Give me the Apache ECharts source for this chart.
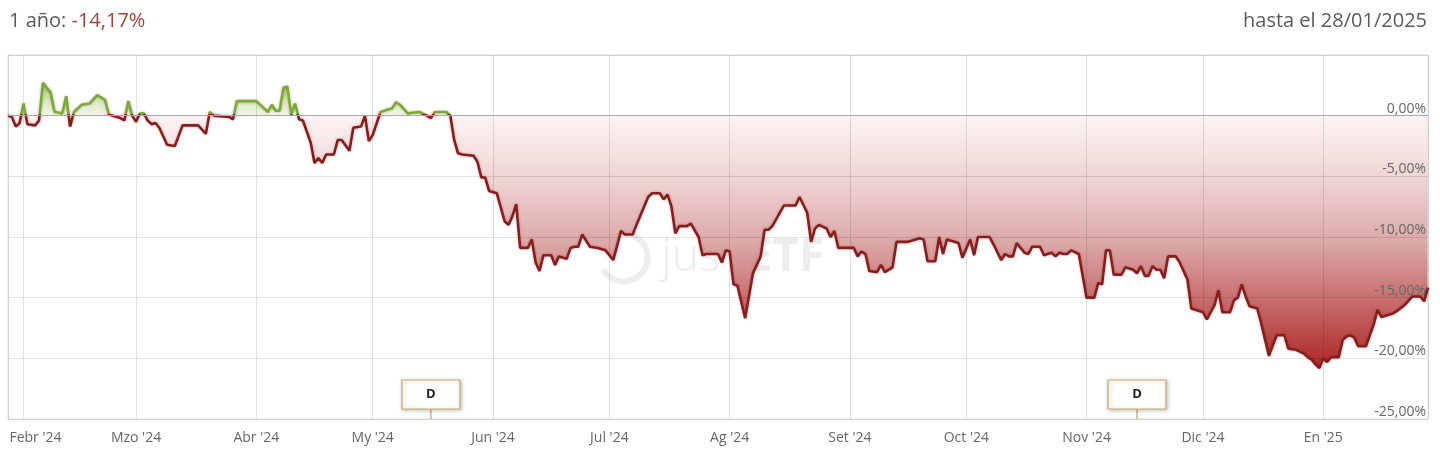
<!DOCTYPE html>
<html>
<head>
<meta charset="utf-8">
<script src="https://cdn.jsdelivr.net/npm/echarts@6/dist/echarts.min.js"></script>
<style>
html,body{margin:0;padding:0;background:#fff;}
#chart{width:1440px;height:456px;}
</style>
</head>
<body>
<div id="chart"></div>
<script>
// ---------- DATA ----------
const dates = [
'2024-01-28','2024-01-29','2024-01-30','2024-01-31','2024-02-01','2024-02-02','2024-02-04','2024-02-05','2024-02-06','2024-02-08',
'2024-02-09','2024-02-11','2024-02-12','2024-02-13','2024-02-14','2024-02-16','2024-02-18','2024-02-20','2024-02-22','2024-02-23',
'2024-02-24','2024-02-26','2024-02-27','2024-02-28','2024-02-29','2024-03-01','2024-03-02','2024-03-03','2024-03-04','2024-03-05',
'2024-03-06','2024-03-07','2024-03-09','2024-03-11','2024-03-13','2024-03-17','2024-03-19','2024-03-20','2024-03-21','2024-03-25',
'2024-03-26','2024-03-27','2024-04-01','2024-04-04','2024-04-05','2024-04-06','2024-04-07','2024-04-08','2024-04-09','2024-04-10',
'2024-04-11','2024-04-12','2024-04-13','2024-04-15','2024-04-16','2024-04-17','2024-04-18','2024-04-19','2024-04-21','2024-04-22',
'2024-04-23','2024-04-25','2024-04-26','2024-04-28','2024-04-29','2024-04-30','2024-05-01','2024-05-03','2024-05-05','2024-05-06',
'2024-05-07','2024-05-08','2024-05-10','2024-05-13','2024-05-15','2024-05-16','2024-05-17','2024-05-20','2024-05-21','2024-05-22',
'2024-05-23','2024-05-24','2024-05-27','2024-05-28','2024-05-29','2024-05-30','2024-05-31','2024-06-02','2024-06-04','2024-06-05',
'2024-06-06','2024-06-07','2024-06-08','2024-06-10','2024-06-11','2024-06-12','2024-06-13','2024-06-14','2024-06-16','2024-06-17',
'2024-06-18','2024-06-20','2024-06-21','2024-06-22','2024-06-23','2024-06-24','2024-06-26','2024-06-28','2024-06-30','2024-07-02',
'2024-07-04','2024-07-05','2024-07-07','2024-07-08','2024-07-11','2024-07-12','2024-07-14','2024-07-15','2024-07-16','2024-07-17',
'2024-07-18','2024-07-19','2024-07-21','2024-07-22','2024-07-24','2024-07-25','2024-07-26','2024-07-29','2024-07-30','2024-07-31',
'2024-08-01','2024-08-02','2024-08-03','2024-08-05','2024-08-07','2024-08-09','2024-08-10','2024-08-11','2024-08-12','2024-08-15',
'2024-08-18','2024-08-19','2024-08-21','2024-08-22','2024-08-23','2024-08-24','2024-08-26','2024-08-27','2024-08-28','2024-08-29',
'2024-09-02','2024-09-03','2024-09-04','2024-09-05','2024-09-06','2024-09-08','2024-09-09','2024-09-10','2024-09-12','2024-09-13',
'2024-09-16','2024-09-19','2024-09-20','2024-09-21','2024-09-23','2024-09-24','2024-09-25','2024-09-26','2024-09-29','2024-09-30',
'2024-10-02','2024-10-03','2024-10-04','2024-10-07','2024-10-08','2024-10-10','2024-10-11','2024-10-12','2024-10-13','2024-10-14',
'2024-10-16','2024-10-17','2024-10-18','2024-10-20','2024-10-21','2024-10-23','2024-10-24','2024-10-25','2024-10-26','2024-10-27',
'2024-10-28','2024-10-30','2024-11-01','2024-11-03','2024-11-04','2024-11-05','2024-11-06','2024-11-07','2024-11-08','2024-11-10',
'2024-11-11','2024-11-13','2024-11-14','2024-11-15','2024-11-16','2024-11-17','2024-11-18','2024-11-19','2024-11-20','2024-11-21',
'2024-11-22','2024-11-24','2024-11-25','2024-11-27','2024-11-28','2024-11-30','2024-12-01','2024-12-02','2024-12-04','2024-12-05',
'2024-12-06','2024-12-08','2024-12-09','2024-12-10','2024-12-11','2024-12-12','2024-12-13','2024-12-15','2024-12-16','2024-12-18',
'2024-12-20','2024-12-22','2024-12-23','2024-12-25','2024-12-27','2024-12-28','2024-12-29','2024-12-30','2024-12-31','2025-01-01',
'2025-01-02','2025-01-03','2025-01-05','2025-01-06','2025-01-07','2025-01-08','2025-01-09','2025-01-10','2025-01-12','2025-01-14',
'2025-01-15','2025-01-16','2025-01-19','2025-01-20','2025-01-22','2025-01-24','2025-01-26','2025-01-27','2025-01-28'
];
const values = [
0.0,-0.1,-0.9,-0.6,1.0,-0.7,-0.8,-0.4,2.7,1.9,
0.3,0.2,1.6,-0.9,0.3,0.9,1.0,1.7,1.3,0.1,
0.0,-0.2,-0.4,1.2,0.0,-0.5,0.2,0.2,-0.4,-0.7,
-0.6,-1.0,-2.4,-2.5,-0.8,-0.8,-1.5,0.3,0.0,-0.1,
-0.3,1.2,1.2,0.3,0.9,0.4,0.4,2.3,2.4,0.1,
1.0,-0.3,-0.4,-2.2,-3.9,-3.5,-3.9,-3.2,-3.2,-2.0,
-2.0,-2.9,-1.0,-0.9,0.0,-2.1,-1.6,0.3,0.5,0.6,
1.1,0.9,0.2,0.3,0.0,-0.2,0.3,0.3,0.0,-2.0,
-3.1,-3.2,-3.3,-3.8,-5.1,-5.1,-6.2,-6.4,-8.7,-9.0,
-8.3,-7.3,-10.9,-10.9,-10.2,-12.1,-12.8,-11.5,-11.5,-12.3,
-11.6,-11.8,-10.9,-10.8,-10.8,-9.8,-10.8,-10.9,-11.1,-11.9,
-9.5,-9.8,-9.8,-9.0,-6.7,-6.4,-6.4,-6.9,-6.5,-7.5,
-9.7,-9.1,-9.1,-8.9,-10.0,-11.5,-11.4,-11.4,-12.1,-11.1,
-11.2,-13.9,-14.0,-16.7,-13.0,-11.6,-9.4,-9.4,-9.1,-7.4,
-7.4,-6.7,-8.0,-10.4,-9.3,-9.0,-9.3,-10.0,-9.5,-10.9,
-10.9,-11.6,-11.2,-11.4,-12.8,-12.9,-12.3,-12.9,-12.5,-10.4,
-10.4,-10.1,-10.2,-12.0,-12.0,-10.0,-11.4,-10.2,-10.5,-11.7,
-10.2,-11.5,-10.0,-10.0,-10.6,-11.9,-11.4,-11.6,-11.6,-10.5,
-11.3,-11.4,-10.8,-10.8,-11.5,-11.3,-11.6,-11.3,-11.4,-11.4,
-11.1,-11.4,-15.0,-15.0,-13.8,-13.9,-11.1,-11.1,-13.1,-13.1,
-12.5,-12.7,-13.0,-12.4,-13.2,-13.2,-12.4,-12.7,-12.7,-13.4,
-11.6,-11.6,-12.1,-13.5,-15.9,-16.1,-16.2,-16.8,-15.6,-14.4,
-16.2,-16.2,-15.2,-15.0,-13.9,-14.9,-15.7,-15.9,-17.1,-19.8,
-18.1,-18.1,-19.2,-19.3,-19.6,-19.9,-20.1,-20.5,-20.8,-20.0,
-20.3,-19.9,-19.9,-18.5,-18.2,-18.1,-18.3,-19.0,-19.0,-17.2,
-16.0,-16.6,-16.3,-16.1,-15.6,-14.9,-14.9,-15.3,-14.17
];
const monthNames = ['En','Febr','Mzo','Abr','My','Jun','Jul','Ag','Set','Oct','Nov','Dic'];
const dividendDates = ['2024-05-16','2024-11-14'];
const dividendLabel = 'D';
const xRange = ['2024-01-28','2025-01-28'];
const yRange = [-25, 5];
const yStep = 5;
const titleLeftText = '1 año: ';
const titleValueText = '-14,17%';
const titleRightText = 'hasta el 28/01/2025';
const watermarkText = ['jus', 'tETF'];

// ---------- STYLES ----------
const FONT = '"Open Sans", "Noto Sans", sans-serif';
const vMax = Math.max.apply(null, values);
const vMin = Math.min.apply(null, values);
const zeroOff = vMax / (vMax - vMin);
const lineGrad = new echarts.graphic.LinearGradient(0, 0, 0, 1, [
  {offset: 0, color: '#79ab36'},
  {offset: zeroOff, color: '#79ab36'},
  {offset: zeroOff, color: '#8a1c1c'},
  {offset: 1, color: '#8a1c1c'}
]);
const areaGrad = new echarts.graphic.LinearGradient(0, 0, 0, 1, [
  {offset: 0, color: 'rgba(140,190,70,0.8)'},
  {offset: zeroOff, color: 'rgba(215,232,190,0.35)'},
  {offset: zeroOff, color: 'rgba(252,244,244,1)'},
  {offset: zeroOff + (1 - zeroOff) * 0.25, color: '#f0d4d4'},
  {offset: zeroOff + (1 - zeroOff) * 0.5, color: '#dca9a9'},
  {offset: zeroOff + (1 - zeroOff) * 0.75, color: '#c66868'},
  {offset: 1, color: '#ad2626'}
]);
const seriesData = dates.map(function (d, i) { return [d, values[i]]; });

const chart = echarts.init(document.getElementById('chart'), null, {renderer: 'canvas'});
const option = {
  animation: false,
  backgroundColor: '#fff',
  title: [
    {
      text: '{a|' + titleLeftText + '}{b|' + titleValueText + '}',
      left: 9, top: 11, padding: 0,
      textStyle: {
        fontWeight: 'normal', fontSize: 20, fontFamily: FONT,
        rich: {
          a: {fontSize: 20, color: '#5b5b5b', fontFamily: FONT, fontWeight: 'normal'},
          b: {fontSize: 20, color: '#a2443e', fontFamily: FONT, fontWeight: 'normal'}
        }
      }
    },
    {
      text: titleRightText,
      right: 13, top: 11, padding: 0,
      textStyle: {fontWeight: 'normal', fontSize: 20, color: '#5b5b5b', fontFamily: FONT}
    }
  ],
  grid: {
    left: 8, right: 12, top: 55, bottom: 37,
    show: true, borderColor: '#dcdcdc', borderWidth: 1, containLabel: false, z: 2
  },
  xAxis: {
    type: 'time', z: 2,
    min: xRange[0], max: xRange[1],
    splitNumber: 10,
    axisLine: {show: true, lineStyle: {color: '#bdbdbd', width: 1}},
    axisTick: {show: false},
    splitLine: {show: true, lineStyle: {color: 'rgba(0,0,0,0.11)', width: 1}},
    axisLabel: {
      show: true, margin: 12, fontSize: 14, color: '#666', fontFamily: FONT,
      hideOverlap: false, showMinLabel: true, showMaxLabel: true,
      formatter: function (val) {
        const d = new Date(val);
        if (d.getDate() !== 1 || d.getHours() !== 0) return '';
        const txt = monthNames[d.getMonth()] + " '" + String(d.getFullYear()).slice(2);
        if (+d === +echarts.time.parse(xRange[0]) + 4 * 864e5) return '{f|' + txt + '}';
        return txt;
      },
      rich: {
        f: {width: 76, align: 'right', fontSize: 14, color: '#666', fontFamily: FONT}
      }
    }
  },
  yAxis: {
    type: 'value', position: 'right', z: 2,
    min: yRange[0], max: yRange[1], interval: yStep,
    axisLine: {show: false}, axisTick: {show: false},
    splitLine: {show: true, lineStyle: {color: 'rgba(0,0,0,0.11)', width: 1}},
    axisLabel: {
      inside: true, margin: 2, verticalAlign: 'bottom', fontSize: 14, color: '#666', fontFamily: FONT,
      formatter: function (v) {
        if (v === yRange[1]) return '';
        return v.toFixed(2).replace('.', ',') + '%';
      }
    }
  },
  graphic: [
    {
      type: 'group', left: 600, top: 232, silent: true, z: 50,
      children: [
        {type: 'arc', shape: {cx: 30, cy: 32, r: 24, startAngle: -1.2, endAngle: 2.6}, style: {stroke: 'rgba(215,215,215,0.45)', lineWidth: 6, fill: null}},
        {type: 'text', x: 68, y: 10, style: {text: watermarkText[0], font: '300 46px ' + FONT, fill: 'rgba(215,215,215,0.45)'}},
        {type: 'text', x: 133, y: 10, style: {text: watermarkText[1], font: 'bold 46px ' + FONT, fill: 'rgba(215,215,215,0.45)'}}
      ]
    }
  ],
  series: [
    {
      // filled area (drawn below the grid lines)
      type: 'line', z: 1,
      data: seriesData,
      showSymbol: false, symbol: 'none', smooth: false,
      lineStyle: {width: 0, opacity: 0},
      areaStyle: {color: areaGrad, origin: 0, opacity: 1}
    },
    {
      // the line itself
      type: 'line', z: 3,
      data: seriesData,
      showSymbol: false, symbol: 'none', smooth: false,
      lineStyle: {width: 2.6, color: lineGrad, shadowColor: 'rgba(120,20,20,0.3)', shadowBlur: 3},
      markLine: {
        silent: true, symbol: 'none', label: {show: false},
        lineStyle: {color: '#a9a9a9', width: 1, type: 'solid'},
        data: [{yAxis: 0}]
      }
    },
    {
      type: 'custom',
      data: dividendDates.map(function (d) { return [d, yRange[0]]; }),
      clip: false, z: 20, silent: true,
      renderItem: function (params, api) {
        const p = api.coord([api.value(0), api.value(1)]);
        return {
          type: 'group',
          children: [
            {type: 'line', shape: {x1: p[0], y1: p[1], x2: p[0], y2: p[1] - 11}, style: {stroke: '#c2a165', lineWidth: 1.2}},
            {type: 'rect', shape: {x: p[0] - 29, y: p[1] - 39, width: 58, height: 29},
             style: {fill: '#fffefb', stroke: '#c9aa6e', lineWidth: 1.2, shadowBlur: 4, shadowColor: 'rgba(0,0,0,0.25)', shadowOffsetX: 1, shadowOffsetY: 1}},
            {type: 'text', style: {text: dividendLabel, x: p[0], y: p[1] - 25, align: 'center', verticalAlign: 'middle', font: 'bold 13px ' + FONT, fill: '#222'}}
          ]
        };
      }
    }
  ]
};
chart.setOption(option);
</script>
</body>
</html>
